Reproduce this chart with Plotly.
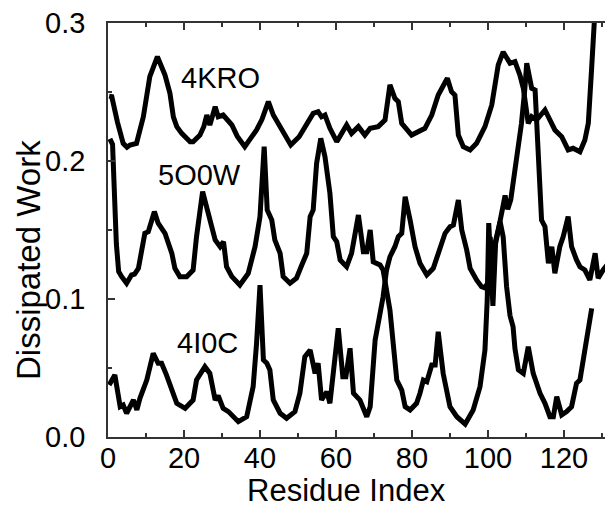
import plotly.graph_objects as go

# 4KRO
x_4kro = [0.3, 1, 2.5, 4, 5, 5.8, 7.5, 9.3, 11, 13, 15, 16.3, 17.2, 18.1, 19.4, 21.6, 22.4, 24.2, 25.2,
          26, 26.8, 28.2, 29, 30.3, 32.6, 34, 36, 37.5, 39.1, 40.5, 42.2, 43.5, 45.3, 48.1, 50.3, 52.7,
          54, 55.3, 56.2, 57.1, 58.4, 60.2, 62.8, 64.1, 65.9, 67.6, 69, 71.1, 72.9, 74.2, 75.5, 76.4,
          77.3, 79.9, 83.4, 85.2, 86.9, 89.3, 90.4, 91.3, 92.2, 93.5, 95.3, 97, 99.2, 101, 102.7, 104,
          105.8, 107.1, 108.4, 109.3, 110.2, 110.6, 111.5, 112.8, 115, 116.3, 117.6, 119.4, 121.1,
          122.4, 124.2, 125.5, 126.4, 127.3, 128.2, 128.8]
y_4kro = [0.247, 0.2466, 0.228, 0.2128, 0.210, 0.2116, 0.2128, 0.232, 0.2611, 0.2756, 0.2623, 0.249,
          0.232, 0.2249, 0.220, 0.214, 0.214, 0.2188, 0.2248, 0.2333, 0.226, 0.2393, 0.232, 0.2333,
          0.2261, 0.218, 0.2104, 0.216, 0.2225, 0.230, 0.243, 0.2333, 0.2249, 0.2116, 0.2176, 0.2285,
          0.2345, 0.2357, 0.232, 0.2333, 0.2237, 0.214, 0.2261, 0.220, 0.2249, 0.2188, 0.2237, 0.2249,
          0.2297, 0.2551, 0.2454, 0.243, 0.2273, 0.2188, 0.2237, 0.2333, 0.2478, 0.260, 0.2502, 0.2478,
          0.2188, 0.2104, 0.208, 0.2128, 0.2249, 0.2406, 0.2696, 0.279, 0.2708, 0.272, 0.2623, 0.2527,
          0.2321, 0.2273, 0.2321, 0.2297, 0.237, 0.2297, 0.2225, 0.2176, 0.208, 0.2092, 0.2067, 0.2152,
          0.2273, 0.2683, 0.31, 0.34]

# 5O0W
x_5o0w = [0.5, 1.2, 2.2, 2.8, 3.6, 4.9, 6.2, 7, 8, 9.7, 10.6, 12.2, 13.2, 15, 16.8, 17.6, 18.9, 20.7,
          22.4, 23.3, 24.9, 26.4, 28.2, 29.5, 30.4, 31.2, 32.6, 34.7, 36.9, 38.7, 40, 41.1, 41.9, 43.1,
          43.9, 45.3, 46.1, 47.9, 49.6, 51, 52.3, 53.2, 54, 54.9, 56, 57.1, 58.4, 59.3, 60.2, 61.1,
          62.8, 64.1, 65.9, 67.2, 68.1, 69, 69.8, 71.6, 72.4, 74.2, 75.1, 76, 77.3, 78.2, 79.5, 81.2,
          82.1, 83, 83.9, 85.2, 86.1, 86.9, 88.2, 90, 91.8, 94, 96.1, 97.9, 99.2, 99.8, 100.2, 100.8,
          101.3, 102, 102.6, 103.2, 104, 104.5, 105.2, 106, 107, 108, 108.8, 109.7, 110.2, 110.9,
          111.5, 112.4, 113.2, 114.1, 115, 115.9, 116.8, 117.6, 118.9, 119.8, 121.1, 122, 123.3,
          124.2, 125.5, 126.8, 128.2, 129, 130.3, 131.7, 132.6, 133.5]
y_5o0w = [0.216, 0.212, 0.14, 0.12, 0.1162, 0.1114, 0.1174, 0.118, 0.1222, 0.1476, 0.1488, 0.1633,
          0.1549, 0.1476, 0.1331, 0.1222, 0.1162, 0.1162, 0.121, 0.1452, 0.1778, 0.1621, 0.1428,
          0.1379, 0.1415, 0.1234, 0.1162, 0.1101, 0.1186, 0.1379, 0.1597, 0.2104, 0.1645, 0.1572,
          0.1428, 0.1331, 0.1162, 0.1114, 0.115, 0.1246, 0.1331, 0.1597, 0.1645, 0.1983, 0.2164,
          0.2031, 0.1766, 0.1451, 0.1415, 0.1283, 0.1234, 0.1331, 0.1609, 0.1343, 0.1343, 0.15,
          0.127, 0.1246, 0.121, 0.092, 0.063, 0.0413, 0.034, 0.022, 0.0196, 0.0244, 0.0317, 0.0413,
          0.0401, 0.0522, 0.0522, 0.0763, 0.0461, 0.022, 0.0147, 0.0094, 0.0196, 0.0365, 0.063,
          0.0993, 0.155, 0.115, 0.095, 0.14, 0.15, 0.158, 0.168, 0.175, 0.165, 0.172, 0.19, 0.21,
          0.227, 0.2524, 0.2708, 0.2611, 0.2527, 0.2514, 0.205, 0.1572, 0.1524, 0.1259, 0.1379,
          0.1186, 0.1379, 0.1452, 0.1597, 0.1379, 0.1283, 0.1234, 0.121, 0.1138, 0.1331, 0.115,
          0.121, 0.1259, 0.1355, 0.145]

# 4I0C
x_4i0c = [0.3, 1.8, 3.2, 4, 4.9, 6.7, 7.6, 8.4, 10.2, 11.9, 13.2, 14.1, 15.4, 16.8, 18.1, 20.3, 22.4,
          23.3, 25.5, 26.8, 28.2, 29, 30.3, 31.7, 34.3, 36.5, 38.2, 39.1, 40, 40.9, 41.8, 42.6, 43.5,
          45.3, 47, 49.2, 50.5, 51.8, 53.2, 54.5, 55.3, 56.2, 57.6, 58.4, 60.6, 61.8, 62.6, 63.7,
          64.6, 66.3, 68.1, 69, 70.3, 71.6, 72.4, 73.3, 74.2, 75.5, 76.4, 77.3, 78.2, 79.5, 80.8,
          82.1, 83.9, 85.6, 87.4, 88.7, 90, 90.9, 92.2, 93.1, 94.4, 95.3, 97, 98.3, 99.2, 100,
          100.6, 101.2, 101.8, 102.5, 103.2, 104, 104.5, 104.9, 105.8, 106.6, 107.1, 108, 109.3,
          110.6, 111.9, 113.7, 115, 116.3, 117.2, 118.1, 119.4, 120.7, 122, 123.3, 124.2, 125.9, 127.3]
y_4i0c = [0.0377, 0.0449, 0.022, 0.0232, 0.0172, 0.0268, 0.0196, 0.028, 0.0413, 0.0606, 0.0534,
          0.0534, 0.0449, 0.0328, 0.0244, 0.0208, 0.0268, 0.0413, 0.0509, 0.0461, 0.0268, 0.03,
          0.0208, 0.0184, 0.0111, 0.0147, 0.0365, 0.0679, 0.110, 0.0558, 0.0534, 0.0486, 0.0268,
          0.0172, 0.0136, 0.0184, 0.0317, 0.0582, 0.063, 0.0461, 0.0534, 0.0268, 0.0328, 0.0244,
          0.0788, 0.0437, 0.0437, 0.0643, 0.0317, 0.0268, 0.0147, 0.022, 0.0703, 0.0896, 0.1017,
          0.121, 0.1306, 0.1379, 0.1452, 0.1476, 0.1741, 0.1572, 0.1379, 0.1259, 0.1174, 0.1222,
          0.1355, 0.1476, 0.1524, 0.1536, 0.1717, 0.15, 0.1355, 0.1222, 0.1138, 0.1089, 0.108,
          0.112, 0.145, 0.100, 0.14, 0.150, 0.156, 0.145, 0.12, 0.1089, 0.088, 0.08, 0.064, 0.0486,
          0.0461, 0.0654, 0.0461, 0.0317, 0.0244, 0.0147, 0.0147, 0.0292, 0.016, 0.0184, 0.022,
          0.0389, 0.0413, 0.0679, 0.0932]

labels = ["4KRO", "5O0W", "4I0C"]
label_x = [29.5, 24, 26.3]
label_y = [0.260, 0.190, 0.068]

FONT = "Liberation Sans, Arial, sans-serif"

# page body has an 8px margin, so the figure is 8px smaller and shifted
W, H = 605, 504
ML, MT, MB = 100, 15, 75
PW, PH = W - ML, H - MT - MB

AX = "#333"
fig = go.Figure()
for xs, ys, name in [(x_4kro, y_4kro, labels[0]), (x_5o0w, y_5o0w, labels[1]), (x_4i0c, y_4i0c, labels[2])]:
    fig.add_trace(go.Scatter(x=xs, y=ys, mode="lines", name=name,
                             line=dict(color="black", width=5), showlegend=False))
# empty trace to anchor the top (mirror) axis
fig.add_trace(go.Scatter(x=[None], y=[None], xaxis="x2", yaxis="y", showlegend=False,
                         hoverinfo="skip"))

for t, lx, ly in zip(labels, label_x, label_y):
    fig.add_annotation(x=lx, y=ly, text=t, showarrow=False,
                       font=dict(family=FONT, size=29, color="black"))

fig.add_annotation(xref="paper", yref="paper", x=(346 - 108) / PW, y=-(490 - 437) / PH,
                   xanchor="center", yanchor="middle",
                   text="Residue Index", showarrow=False,
                   font=dict(family=FONT, size=31, color="black"))
fig.add_annotation(xref="paper", yref="paper", x=-(108 - 28) / PW, y=(437 - 260) / PH,
                   xanchor="center", yanchor="middle",
                   text="Dissipated Work", showarrow=False, textangle=-90,
                   font=dict(family=FONT, size=33, color="black"))

tick_common = dict(ticks="inside", ticklen=7, tickwidth=1.5, tickcolor=AX,
                   showline=True, linecolor=AX, linewidth=1.5,
                   showgrid=False, zeroline=False, automargin=False)

fig.update_layout(
    width=W, height=H,
    margin=dict(l=ML, r=0, t=MT, b=MB, autoexpand=False),
    paper_bgcolor="white", plot_bgcolor="white",
    font=dict(family=FONT, size=29, color="black"),
    xaxis=dict(range=[0, 132.9], tickvals=[0, 20, 40, 60, 80, 100, 120], ticklabelstandoff=-6,
               minor=dict(dtick=10, tick0=0, ticks="inside", ticklen=4, tickwidth=1.5, tickcolor=AX),
               **tick_common),
    xaxis2=dict(range=[0, 132.9], overlaying="x", side="top", anchor="y", showticklabels=False,
                tickvals=[0, 20, 40, 60, 80, 100, 120],
                minor=dict(dtick=10, tick0=0, ticks="inside", ticklen=4, tickwidth=1.5, tickcolor=AX),
                **tick_common),
    yaxis=dict(range=[0, 0.3], tickvals=[0.0, 0.1, 0.2, 0.3], ticktext=["0.0", "0.1", "0.2", "0.3"],
               ticklabelstandoff=15, ticklabeloverflow="allow",
               minor=dict(dtick=0.05, tick0=0, ticks="inside", ticklen=4, tickwidth=1.5, tickcolor=AX),
               **tick_common),
)

fig.write_html("out.html")
